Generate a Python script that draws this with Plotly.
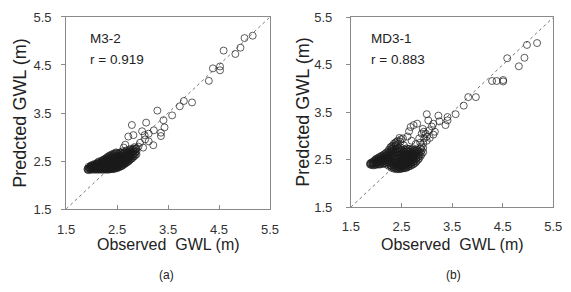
import plotly.graph_objects as go

# ---------------- data ----------------
ticks = [1.5, 2.5, 3.5, 4.5, 5.5]
tick_labels = ["1.5", "2.5", "3.5", "4.5", "5.5"]
axis_range = [1.5, 5.5]

# (a) M3-2 : dense cluster, columns of (observed, [predicted...])
cluster_a = [
    (1.92, [2.32, 2.34]),
    (1.94, [2.31, 2.35, 2.38]),
    (1.96, [2.33, 2.36]),
    (1.98, [2.32, 2.35, 2.38, 2.40]),
    (2.00, [2.33, 2.36, 2.39, 2.41]),
    (2.02, [2.32, 2.35, 2.38, 2.42]),
    (2.04, [2.34, 2.37, 2.40]),
    (2.06, [2.32, 2.35, 2.38, 2.41, 2.44]),
    (2.08, [2.33, 2.36, 2.39, 2.43]),
    (2.10, [2.32, 2.35, 2.38, 2.42, 2.45]),
    (2.12, [2.34, 2.37, 2.40, 2.44, 2.47]),
    (2.14, [2.32, 2.35, 2.38, 2.41, 2.45, 2.49]),
    (2.16, [2.33, 2.36, 2.39, 2.42, 2.46]),
    (2.18, [2.32, 2.35, 2.38, 2.41, 2.45, 2.49]),
    (2.20, [2.34, 2.37, 2.40, 2.43, 2.47, 2.51]),
    (2.22, [2.32, 2.35, 2.38, 2.41, 2.44, 2.48, 2.52]),
    (2.24, [2.33, 2.36, 2.39, 2.42, 2.45, 2.49, 2.53]),
    (2.26, [2.32, 2.35, 2.38, 2.42, 2.46, 2.50, 2.54]),
    (2.28, [2.34, 2.37, 2.40, 2.44, 2.48, 2.52, 2.56]),
    (2.30, [2.32, 2.35, 2.38, 2.41, 2.45, 2.49, 2.53, 2.57]),
    (2.32, [2.33, 2.36, 2.39, 2.42, 2.46, 2.50, 2.55, 2.59]),
    (2.34, [2.32, 2.35, 2.38, 2.42, 2.46, 2.50, 2.54, 2.60]),
    (2.36, [2.34, 2.37, 2.40, 2.44, 2.48, 2.52, 2.57, 2.62]),
    (2.38, [2.33, 2.36, 2.39, 2.43, 2.47, 2.51, 2.56, 2.61]),
    (2.40, [2.34, 2.37, 2.41, 2.45, 2.49, 2.54, 2.59, 2.64]),
    (2.42, [2.33, 2.36, 2.40, 2.44, 2.48, 2.53, 2.58, 2.63]),
    (2.44, [2.35, 2.38, 2.42, 2.46, 2.50, 2.55, 2.60, 2.66]),
    (2.46, [2.34, 2.37, 2.41, 2.45, 2.49, 2.54, 2.59, 2.65]),
    (2.48, [2.36, 2.39, 2.43, 2.47, 2.52, 2.57, 2.62, 2.68]),
    (2.50, [2.35, 2.38, 2.42, 2.46, 2.51, 2.56, 2.61, 2.67]),
    (2.52, [2.37, 2.40, 2.44, 2.49, 2.54, 2.59, 2.65]),
    (2.54, [2.37, 2.41, 2.45, 2.49, 2.54, 2.59, 2.64]),
    (2.56, [2.39, 2.42, 2.46, 2.50, 2.55, 2.61, 2.68]),
    (2.58, [2.39, 2.43, 2.47, 2.52, 2.57, 2.62, 2.67]),
    (2.60, [2.40, 2.44, 2.48, 2.53, 2.58, 2.64, 2.70]),
    (2.62, [2.42, 2.46, 2.50, 2.55, 2.60, 2.66]),
    (2.64, [2.43, 2.47, 2.51, 2.56, 2.61, 2.67]),
    (2.66, [2.45, 2.49, 2.53, 2.58, 2.63, 2.69]),
    (2.68, [2.46, 2.50, 2.55, 2.60, 2.66, 2.72]),
    (2.70, [2.48, 2.52, 2.57, 2.62, 2.68]),
    (2.72, [2.49, 2.54, 2.59, 2.64, 2.70]),
    (2.74, [2.51, 2.56, 2.61, 2.67, 2.73]),
    (2.76, [2.53, 2.58, 2.63, 2.69, 2.75]),
    (2.78, [2.55, 2.60, 2.66, 2.72]),
    (2.80, [2.56, 2.62, 2.68, 2.74]),
    (2.82, [2.59, 2.64, 2.70, 2.76]),
    (2.84, [2.60, 2.66, 2.72, 2.79]),
    (2.86, [2.63, 2.69, 2.75]),
    (2.88, [2.64, 2.70, 2.77]),
]
scatter_a = [
    (5.16, 5.11), (5.00, 5.06), (4.92, 4.86), (4.82, 4.73), (4.59, 4.80),
    (4.52, 4.47), (4.52, 4.39), (4.38, 4.43), (4.30, 4.17), (3.97, 3.72),
    (3.81, 3.75), (3.73, 3.64), (3.58, 3.45), (3.41, 3.35), (3.43, 3.20),
    (3.29, 3.55), (3.36, 3.09), (3.36, 3.02), (3.22, 3.14), (3.07, 3.30),
    (3.12, 3.07), (3.12, 2.91), (3.21, 2.83), (3.04, 3.04), (2.99, 3.12),
    (2.79, 3.25), (2.82, 3.04), (2.72, 3.01), (2.66, 2.84), (2.63, 2.78),
    (3.01, 2.78), (2.95, 2.88), (2.87, 2.75), (3.05, 2.95), (2.92, 2.80),
]

# (b) MD3-1
cluster_b = [
    (1.88, [2.40, 2.42]),
    (1.90, [2.39, 2.42, 2.44]),
    (1.93, [2.39, 2.42, 2.45]),
    (1.95, [2.38, 2.41, 2.44, 2.47]),
    (1.98, [2.40, 2.43, 2.47, 2.50]),
    (2.00, [2.39, 2.42, 2.45, 2.49, 2.52]),
    (2.03, [2.41, 2.45, 2.49, 2.53]),
    (2.05, [2.40, 2.44, 2.48, 2.51, 2.55]),
    (2.08, [2.40, 2.44, 2.48, 2.52, 2.56]),
    (2.10, [2.41, 2.45, 2.49, 2.54, 2.58]),
    (2.13, [2.42, 2.46, 2.50, 2.55, 2.59]),
    (2.15, [2.42, 2.47, 2.52, 2.57, 2.61]),
    (2.18, [2.43, 2.48, 2.53, 2.58, 2.63]),
    (2.20, [2.40, 2.45, 2.50, 2.55, 2.60, 2.65]),
    (2.23, [2.45, 2.50, 2.55, 2.61, 2.67]),
    (2.25, [2.37, 2.42, 2.48, 2.53, 2.59, 2.65, 2.71]),
    (2.28, [2.38, 2.44, 2.52, 2.58, 2.64, 2.70, 2.76]),
    (2.30, [2.33, 2.37, 2.42, 2.48, 2.55, 2.61, 2.67, 2.73, 2.78]),
    (2.33, [2.34, 2.40, 2.47, 2.55, 2.62, 2.68, 2.74, 2.80]),
    (2.35, [2.31, 2.35, 2.39, 2.44, 2.50, 2.57, 2.64, 2.71, 2.78, 2.84]),
    (2.38, [2.32, 2.37, 2.43, 2.50, 2.58, 2.66, 2.73, 2.81, 2.86]),
    (2.40, [2.30, 2.33, 2.37, 2.41, 2.46, 2.52, 2.58, 2.65, 2.72, 2.80, 2.88]),
    (2.43, [2.31, 2.35, 2.40, 2.46, 2.52, 2.59, 2.66, 2.74, 2.83, 2.90]),
    (2.45, [2.30, 2.33, 2.37, 2.42, 2.47, 2.53, 2.60, 2.67, 2.74]),
    (2.48, [2.31, 2.35, 2.39, 2.44, 2.49, 2.55, 2.61, 2.68, 2.76, 2.88]),
    (2.50, [2.31, 2.34, 2.38, 2.42, 2.47, 2.52, 2.58, 2.64, 2.71]),
    (2.53, [2.32, 2.36, 2.40, 2.45, 2.50, 2.56, 2.62, 2.69, 2.95]),
    (2.55, [2.32, 2.35, 2.39, 2.44, 2.49, 2.54, 2.60, 2.66, 2.72]),
    (2.58, [2.33, 2.37, 2.42, 2.47, 2.52, 2.58, 2.64, 2.71]),
    (2.60, [2.33, 2.37, 2.41, 2.46, 2.51, 2.56, 2.62, 2.68, 2.74]),
    (2.63, [2.35, 2.39, 2.44, 2.49, 2.55, 2.61, 2.67, 2.73]),
    (2.65, [2.36, 2.40, 2.45, 2.50, 2.55, 2.61, 2.67, 2.72]),
    (2.68, [2.37, 2.42, 2.47, 2.52, 2.58, 2.64, 2.70]),
    (2.70, [2.39, 2.44, 2.49, 2.54, 2.60, 2.66, 2.72]),
    (2.73, [2.40, 2.45, 2.50, 2.56, 2.62, 2.68, 2.74]),
    (2.75, [2.42, 2.47, 2.53, 2.59, 2.65, 2.71]),
    (2.78, [2.44, 2.50, 2.56, 2.62, 2.68]),
    (2.80, [2.47, 2.53, 2.59, 2.65, 2.71]),
    (2.83, [2.50, 2.56, 2.63, 2.70]),
    (2.85, [2.53, 2.60, 2.67]),
    (2.88, [2.58, 2.66, 2.74]),
    (2.90, [2.62, 2.70, 2.78]),
    (2.93, [2.66, 2.75, 2.85]),
]
scatter_b = [
    (5.18, 4.96), (4.98, 4.92), (4.93, 4.65), (4.82, 4.47), (4.59, 4.64),
    (4.51, 4.18), (4.51, 4.15), (4.38, 4.16), (4.29, 4.16), (3.97, 3.82),
    (3.82, 3.82), (3.73, 3.64), (3.57, 3.46), (3.41, 3.40), (3.41, 3.33),
    (3.37, 3.23), (3.25, 3.31), (3.23, 3.43), (3.13, 3.26), (3.00, 3.46),
    (3.03, 3.33), (3.16, 3.09), (3.13, 3.03), (2.81, 3.26), (2.74, 3.23),
    (2.68, 3.19), (2.94, 3.09), (3.00, 2.99), (3.06, 2.96), (3.00, 2.90),
    (2.87, 2.86), (2.78, 2.83), (2.62, 2.99), (2.55, 2.80), (2.49, 2.93),
    (2.46, 2.96), (2.85, 2.95), (2.90, 3.05), (2.95, 2.95), (2.70, 2.90),
    (2.65, 3.10), (2.92, 3.15), (3.05, 3.12), (3.10, 3.20), (2.98, 3.05),
]

labels = ["M3-2", "MD3-1"]
r_values = ["r = 0.919", "r = 0.883"]
panel_tags = ["(a)", "(b)"]


def flatten(cluster, scatter):
    xs, ys = [], []
    for x, col in cluster:
        for y in col:
            xs.append(x)
            ys.append(y)
    for x, y in scatter:
        xs.append(x)
        ys.append(y)
    return xs, ys


W, H = 571, 292
panels = [
    dict(xpx=(59, 269.5), ypx=(10.5, 213), ytitle_x=11, tag_x=163, txt_x=82,
         ystand=7, xstand=8),
    dict(xpx=(353, 562), ypx=(11, 211), ytitle_x=304, tag_x=459, txt_x=372,
         ystand=11, xstand=7),
]

fig = go.Figure()
font = "Arial, Liberation Sans, sans-serif"
annotations = []
for i, (cl, sc) in enumerate([(cluster_a, scatter_a), (cluster_b, scatter_b)]):
    xs, ys = flatten(cl, sc)
    xa = "x" if i == 0 else "x2"
    ya = "y" if i == 0 else "y2"
    fig.add_trace(go.Scatter(
        x=axis_range, y=axis_range, mode="lines", xaxis=xa, yaxis=ya,
        line=dict(color="#777", width=1, dash="dot"), showlegend=False,
        hoverinfo="skip"))
    fig.add_trace(go.Scatter(
        x=xs, y=ys, mode="markers", xaxis=xa, yaxis=ya, showlegend=False,
        marker=dict(symbol="circle-open", size=7, color="rgba(25,25,25,0.7)",
                    line=dict(width=1))))
    p = panels[i]
    x0, x1 = p["xpx"]
    y0, y1 = p["ypx"]
    dom_x = [x0 / W, x1 / W]
    dom_y = [(H - y1) / H, (H - y0) / H]
    common = dict(range=axis_range, tickvals=ticks, ticktext=tick_labels,
                  showline=True, mirror=True, linecolor="#8a8a8a", linewidth=1,
                  ticklen=4, tickcolor="#8a8a8a", showgrid=False,
                  zeroline=False, tickfont=dict(family=font, size=13, color="#333"))
    ax = dict(common, domain=dom_x, ticks="inside", anchor=ya,
              ticklabelstandoff=p["xstand"])
    ay = dict(common, domain=dom_y, ticks="outside", anchor=xa,
              ticklabelstandoff=p["ystand"])
    if i == 0:
        fig.update_layout(xaxis=ax, yaxis=ay)
    else:
        fig.update_layout(xaxis2=ax, yaxis2=ay)
    # texts
    annotations.append(dict(x=p["txt_x"] / W, y=(H - 33) / H, xref="paper", yref="paper",
                            text=labels[i], showarrow=False, xanchor="left",
                            yanchor="middle", font=dict(family=font, size=13.5, color="#222")))
    annotations.append(dict(x=p["txt_x"] / W, y=(H - 55) / H, xref="paper", yref="paper",
                            text=r_values[i], showarrow=False, xanchor="left",
                            yanchor="middle", font=dict(family=font, size=13.5, color="#222")))
    annotations.append(dict(x=(x0 + x1) / 2 / W, y=(H - 250) / H, xref="paper", yref="paper",
                            text="Observed  GWL (m)", showarrow=False, xanchor="center",
                            yanchor="middle", font=dict(family=font, size=16, color="#222")))
    annotations.append(dict(x=p["ytitle_x"] / W, y=(H - (y0 + y1) / 2) / H, xref="paper",
                            yref="paper", text="Predcted GWL (m)", showarrow=False,
                            textangle=-90, xanchor="center", yanchor="middle",
                            font=dict(family=font, size=18, color="#222")))
    annotations.append(dict(x=p["tag_x"] / W, y=(H - 283) / H, xref="paper", yref="paper",
                            text=panel_tags[i], showarrow=False, xanchor="center",
                            yanchor="middle", font=dict(family=font, size=12, color="#222")))

fig.update_layout(width=W, height=H, margin=dict(l=0, r=0, t=0, b=0),
                  paper_bgcolor="white", plot_bgcolor="white",
                  annotations=annotations)
fig.write_html("out.html")
